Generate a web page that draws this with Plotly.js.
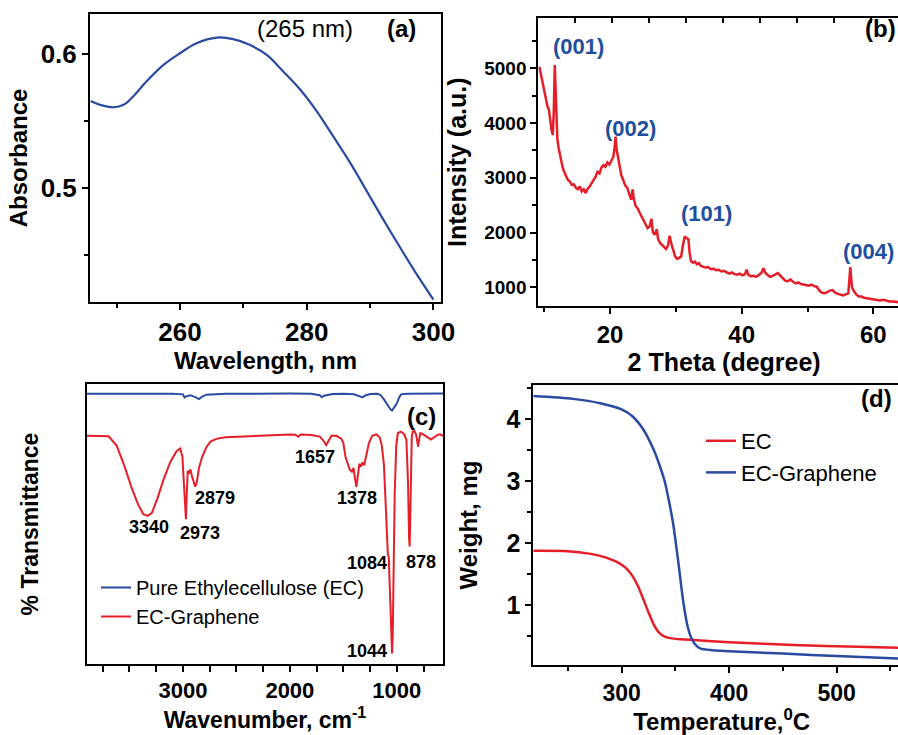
<!DOCTYPE html>
<html><head><meta charset="utf-8">
<script src="https://cdn.plot.ly/plotly-3.0.1.min.js"></script>
<style>html,body{margin:0;padding:0;overflow:hidden;background:#fff}#chart{width:910px;height:735px}</style>
</head><body><div id="chart"></div>
<script>
// ---------- (a) UV-Vis ----------
const uvWavelength = [245.9,247.4,249.5,251.1,252.6,254.7,257.4,260.0,262.6,265.8,268.4,271.0,273.7,276.3,279.0,281.6,284.2,286.9,289.5,292.1,294.8,297.4,300.0];
const uvAbsorbance = [0.5651,0.5622,0.5604,0.5622,0.5684,0.5796,0.5920,0.6007,0.6082,0.6124,0.6112,0.6070,0.5995,0.5871,0.5734,0.5573,0.5386,0.5187,0.4976,0.4765,0.4553,0.4354,0.4168];

// ---------- (b) XRD ----------
const xrdTheta = [9.26,9.5,9.7,9.9,10.1,10.3,10.5,10.7,10.9,11.1,11.3,11.45,11.6,11.72,11.85,12.0,12.2,12.4,12.6,12.8,13.0,13.3,13.6,13.9,14.2,14.5,14.8,15.1,15.4,15.7,16.0,16.3,16.6,16.9,17.2,17.5,17.8,18.1,18.4,18.7,19.0,19.3,19.6,19.9,20.2,20.5,20.7,20.85,21.0,21.2,21.4,21.7,22.0,22.3,22.6,22.9,23.2,23.45,23.6,23.9,24.2,24.5,24.8,25.1,25.4,25.7,26.0,26.3,26.5,26.8,27.1,27.3,27.6,27.9,28.2,28.5,28.8,29.05,29.3,29.6,29.9,30.2,30.5,30.8,31.1,31.35,31.6,31.9,32.1,32.3,32.6,32.9,33.2,33.5,33.8,34.1,34.5,34.9,35.3,35.7,36.1,36.5,36.9,37.3,37.7,38.1,38.5,38.9,39.3,39.7,40.1,40.5,40.75,41.0,41.4,41.8,42.2,42.6,43.0,43.3,43.6,44.0,44.3,44.7,45.1,45.5,45.8,46.2,46.6,47.0,47.4,47.8,48.2,48.6,49.0,49.4,49.8,50.2,50.6,51.0,51.4,51.8,52.2,52.6,53.0,53.4,53.8,54.2,54.6,55.0,55.4,55.8,56.2,56.5,56.75,57.0,57.4,57.8,58.2,58.6,59.0,59.5,60.0,60.5,61.0,61.5,62.0,62.5,63.0,63.5,64.0,64.5,65.0,65.6];
const xrdIntensity = [5029,4880,4760,4640,4560,4420,4300,4250,4020,3880,3780,4200,5060,4500,3950,3700,3540,3420,3260,3190,3120,3030,2960,2930,2870,2880,2820,2790,2840,2750,2790,2720,2800,2840,2900,2960,3020,3110,3080,3190,3230,3200,3280,3240,3300,3380,3560,3750,3520,3380,3200,3050,2960,2860,2820,2700,2600,2790,2620,2480,2440,2360,2290,2200,2130,2080,2110,2250,2010,1960,2060,1880,1810,1770,1750,1700,1760,1940,1800,1680,1560,1520,1540,1560,1780,1930,1900,1880,1620,1480,1450,1470,1420,1440,1390,1380,1360,1370,1330,1340,1310,1320,1290,1300,1270,1250,1270,1240,1230,1250,1220,1240,1320,1230,1200,1210,1190,1220,1260,1350,1260,1220,1190,1210,1230,1260,1220,1170,1120,1110,1140,1100,1070,1090,1060,1050,1040,1030,1050,1020,1010,940,900,890,910,940,950,900,880,860,850,870,890,1370,1000,940,870,830,830,810,800,800,780,770,760,770,750,740,740,730,720,715,710,705];
const xrdPeakLabels = ['(001)','(002)','(101)','(004)'];
const xrdPeakLabelTheta = [15.19,23.04,34.68,59.23];
const xrdPeakLabelI = [5395,3904,2352,1650];

// ---------- (c) FTIR ----------
const ftirWnEC = [3900,3700,3500,3300,3100,3000,2985,2970,2930,2880,2850,2820,2780,2600,2400,2200,2000,1800,1720,1700,1680,1600,1500,1400,1340,1320,1300,1250,1180,1150,1120,1090,1060,1045,1030,1000,980,960,900,800,700,600,565];
const ftirTEC = [96.5,96.5,96.4,96.6,96.5,96.3,95.2,95.6,96.0,95.2,94.6,95.5,96.2,96.5,96.6,96.5,96.6,96.5,96.0,95.3,95.8,96.4,96.5,96.3,95.5,95.2,95.8,96.4,96.5,96.0,94.5,92.5,91.0,90.5,91.2,93.0,95.0,96.3,96.5,96.6,96.5,96.7,96.6];
const ftirWnECG = [3900,3750,3695,3620,3550,3480,3420,3370,3330,3290,3240,3180,3120,3060,3025,3005,2990,2980,2972,2965,2955,2945,2930,2915,2900,2885,2870,2850,2820,2780,2740,2680,2600,2400,2200,2000,1950,1920,1900,1800,1720,1690,1660,1640,1610,1560,1520,1500,1480,1460,1440,1420,1405,1390,1378,1365,1350,1335,1320,1305,1285,1260,1230,1190,1160,1140,1120,1105,1090,1084,1075,1060,1050,1044,1038,1030,1020,1005,990,960,930,910,895,885,880,875,868,860,850,835,820,810,800,792,780,760,730,700,680,650,620,600,565];
const ftirTECG = [81.5,81.5,81.3,78,71,63,57,53.5,52.9,54,59,66,72,76,77,74,65,55,51.7,60,69,68,69.5,67,65,63.3,65,70,74,77.5,79.5,80.5,81,81.3,81.8,82,81.9,81.2,82,81.8,81.2,80,78.2,79.5,81.6,81.4,80.5,79,74,71.7,69.5,68.7,70,66,63.3,67,71.5,70.5,72,71,75,79,81.5,82,81,78,71,55,42,39.5,38,20,8,3.8,10,35,60,78,82.5,83,82,80,65,45,42,50,70,81,83,83.2,82,79,77.6,80,82.5,82.2,81.5,80.5,80.2,81,81.8,82,81.5];
const ftirPeakLabels = ['3340','2973','2879','1657','1378','1084','878','1044'];
const ftirPeakLabelWn = [3321,2838,2698,1764,1374,1280,776,1280];
const ftirPeakLabelT = [49.0,46.7,59.4,73.8,59.4,36.0,36.5,4.6];

// ---------- (d) TGA ----------
const tgaTempEC = [217.8,250,270,285,295,300,305,310,315,320,325,330,335,340,345,355,370,400,460,520,568];
const tgaWeightEC = [1.877,1.87,1.83,1.77,1.70,1.65,1.58,1.47,1.31,1.10,0.88,0.68,0.55,0.49,0.465,0.445,0.432,0.40,0.355,0.325,0.305];
const tgaTempECG = [217.8,255,280,300,310,320,330,335,340,344,348,350,353,356,358.5,361,364,368,373,385,400,450,500,568];
const tgaWeightECG = [4.376,4.33,4.26,4.16,4.05,3.84,3.50,3.27,3.0,2.68,2.30,2.05,1.65,1.22,0.92,0.68,0.50,0.37,0.30,0.27,0.255,0.215,0.175,0.13];

// ---------- layout helpers ----------
const W = 910, H = 735;
const FONT = 'Liberation Sans, Arial, sans-serif';
const px = p => p / W;
const py = p => 1 - p / H;
const BLUE = '#2a4ba2', RED = '#e61e28', LABELBLUE = '#1f4f9f';

function axis(extra) {
  return Object.assign({
    showline: true, linewidth: 2, linecolor: '#000', mirror: true,
    ticks: 'outside', ticklen: 6, tickwidth: 2, tickcolor: '#000',
    showgrid: false, zeroline: false, fixedrange: true,
    tickfont: {family: FONT, size: 24, color: '#000', weight: 'bold'}
  }, extra);
}
function ttl(text, size, standoff) {
  return {text: text, font: {family: FONT, size: size, color: '#000', weight: 'bold'}, standoff: standoff};
}

const traces = [
  {x: uvWavelength, y: uvAbsorbance, xaxis: 'x', yaxis: 'y', mode: 'lines', line: {color: BLUE, width: 2.2, shape: 'spline'}, showlegend: false},
  {x: xrdTheta, y: xrdIntensity, xaxis: 'x2', yaxis: 'y2', mode: 'lines', line: {color: RED, width: 2.5}, showlegend: false},
  // placeholder (no visible point) so the top tick-mark axis of panel (b) is drawn
  {x: [null], y: [null], xaxis: 'x5', yaxis: 'y2', mode: 'lines', showlegend: false, hoverinfo: 'skip'},
  {x: ftirWnEC, y: ftirTEC, xaxis: 'x3', yaxis: 'y3', mode: 'lines', name: 'Pure Ethylecellulose (EC)', line: {color: BLUE, width: 2}, legend: 'legend'},
  {x: ftirWnECG, y: ftirTECG, xaxis: 'x3', yaxis: 'y3', mode: 'lines', name: 'EC-Graphene', line: {color: RED, width: 2}, legend: 'legend'},
  {x: tgaTempEC, y: tgaWeightEC, xaxis: 'x4', yaxis: 'y4', mode: 'lines', name: 'EC', line: {color: RED, width: 2.5, shape: 'spline', smoothing: 0.8}, legend: 'legend2'},
  {x: tgaTempECG, y: tgaWeightECG, xaxis: 'x4', yaxis: 'y4', mode: 'lines', name: 'EC-Graphene', line: {color: BLUE, width: 2.5, shape: 'spline', smoothing: 0.8}, legend: 'legend2'}
];

const annotations = [];
function note(text, x, y, size, color, bold, xref, yref) {
  annotations.push({text: bold ? '<b>' + text + '</b>' : text, x: x, y: y, xref: xref || 'paper', yref: yref || 'paper',
    showarrow: false, xanchor: 'center', yanchor: 'middle', font: {family: FONT, size: size, color: color || '#000'}});
}
note('(265 nm)', px(305), py(28.3), 24, '#000', false);
note('(a)', px(401.7), py(28.3), 24, '#000', true);
note('(b)', px(880), py(28.3), 24, '#000', true);
note('(c)', px(421.7), py(416.7), 24, '#000', true);
note('(d)', px(876.7), py(398.3), 24, '#000', true);
xrdPeakLabels.forEach((t, i) => note(t, xrdPeakLabelTheta[i], xrdPeakLabelI[i], 22, LABELBLUE, true, 'x2', 'y2'));
ftirPeakLabels.forEach((t, i) => note(t, ftirPeakLabelWn[i], ftirPeakLabelT[i], 18, '#000', true, 'x3', 'y3'));

const minorT = (d, len) => ({ticks: 'outside', ticklen: len || 4, tickwidth: 2, tickcolor: '#000', dtick: d});

const layout = {
  width: W, height: H, margin: {l: 0, r: 0, t: 0, b: 0},
  paper_bgcolor: '#fff', plot_bgcolor: '#fff',
  font: {family: FONT, color: '#000'},
  xaxis: axis({domain: [px(90), px(441)], anchor: 'y', range: [245.8, 301.2], tick0: 0, dtick: 20,
    minor: minorT(10),
    tickfont: {family: FONT, size: 26, color: '#000', weight: 'bold'},
    title: ttl('Wavelength, nm', 24, 4)}),
  yaxis: axis({domain: [py(302), py(14)], anchor: 'x', range: [0.415, 0.630], tick0: 0, dtick: 0.1,
    minor: minorT(0.05),
    tickfont: {family: FONT, size: 26, color: '#000', weight: 'bold'},
    title: ttl('Absorbance', 24, 6)}),
  xaxis2: axis({domain: [px(538.3), 1], anchor: 'y2', range: [9.1, 65.57], tick0: 0, dtick: 20,
    minor: minorT(10),
    tickfont: {family: FONT, size: 24, color: '#000', weight: 'bold'},
    title: ttl('2 Theta (degree)', 25, 4)}),
  yaxis2: axis({domain: [py(306), py(18.3)], anchor: 'x2', range: [658, 5913], tick0: 0, dtick: 1000, tickformat: 'd',
    minor: minorT(500),
    tickfont: {family: 'Liberation Sans Narrow, Liberation Sans, Arial, sans-serif', size: 19, color: '#000', weight: 'bold'},
    title: ttl('Intensity (a.u.)', 25, 10)}),
  xaxis5: {overlaying: 'x2', side: 'top', anchor: 'y2', range: [-0.99, 9.04], autorange: false, tick0: 0, dtick: 1,
    ticks: 'inside', ticklen: 5, tickwidth: 2, tickcolor: '#000', showticklabels: false,
    showline: false, showgrid: false, zeroline: false, fixedrange: true},
  xaxis3: axis({domain: [px(86.7), px(443.3)], anchor: 'y3', range: [3900, 565], tick0: 0, dtick: 1000,
    minor: minorT(250, 6),
    tickfont: {family: FONT, size: 22, color: '#000', weight: 'bold'},
    title: ttl('Wavenumber, cm<sup>-1</sup>', 23, 5)}),
  yaxis3: axis({domain: [py(664), py(384)], anchor: 'x3', range: [0, 100], ticks: '', showticklabels: false,
    title: ttl('% Transmittance', 23, 40)}),
  xaxis4: axis({domain: [px(533.3), 1], anchor: 'y4', range: [217.8, 568.2], tick0: 0, dtick: 100,
    minor: minorT(50),
    tickfont: {family: FONT, size: 23, color: '#000', weight: 'bold'},
    title: ttl('Temperature,<sup>0</sup>C', 24, 3)}),
  yaxis4: axis({domain: [py(665), py(385)], anchor: 'x4', range: [0.031, 4.554], tick0: 0, dtick: 1,
    minor: minorT(0.5),
    tickfont: {family: FONT, size: 25, color: '#000', weight: 'bold'},
    title: ttl('Weight, mg', 24, 22)}),
  legend: {x: px(96), y: py(568), xanchor: 'left', yanchor: 'top', bgcolor: 'rgba(0,0,0,0)',
    font: {family: FONT, size: 20, color: '#000'}, tracegroupgap: 0},
  legend2: {x: px(701), y: py(420), xanchor: 'left', yanchor: 'top', bgcolor: 'rgba(0,0,0,0)',
    font: {family: FONT, size: 22, color: '#000'}, tracegroupgap: 0},
  annotations: annotations
};

Plotly.newPlot('chart', traces, layout, {displayModeBar: false, staticPlot: true});
</script></body></html>
